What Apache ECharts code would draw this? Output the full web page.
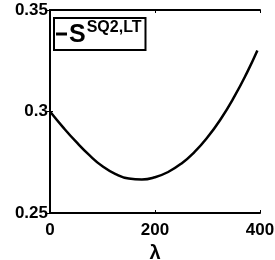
<!DOCTYPE html>
<html lang="en">
<head>
    <meta charset="UTF-8">
    <title>S SQ2,LT</title>
    <script src="https://cdnjs.cloudflare.com/ajax/libs/echarts/6.0.0/echarts.min.js"></script>
    <style>
        body { margin: 0; background: #fff; }
        #main { width: 275px; height: 260px; }
    </style>
</head>
<body>
    <div id="main"></div>
    <script>
        // values
        const lambda = [0, 25, 50, 75, 100, 125, 150, 175, 200, 225, 250, 275, 300, 325, 350, 375, 395];
        const sValues = [0.300, 0.2922, 0.2850, 0.2785, 0.2730, 0.2692, 0.2670, 0.2665, 0.2676, 0.2702, 0.2743, 0.2800, 0.2873, 0.2962, 0.3068, 0.3190, 0.3300];
        const xTicks = [0, 200, 400];
        const yTicks = [0.25, 0.3, 0.35];

        const font = 'Liberation Sans, Arial, sans-serif';
        const myChart = echarts.init(document.getElementById('main'));

        const axisLine = { show: true, lineStyle: { color: '#000', width: 2 } };
        const tick = { show: true, inside: true, length: 3, lineStyle: { color: '#000', width: 1 } };

        const option = {
            animation: false,
            grid: { left: 50, right: 15, top: 10, bottom: 47, outerBoundsMode: 'none', containLabel: false },
            legend: {
                left: 54, top: 18,
                orient: 'vertical',
                padding: [2, 4, 2, 2],
                borderColor: '#000', borderWidth: 2, borderRadius: 0,
                icon: 'rect', itemWidth: 11, itemHeight: 3, itemGap: 0,
                itemStyle: { color: '#000' },
                data: ['S'],
                formatter: () => '{s|S}{sup|SQ2,LT}',
                textStyle: {
                    padding: [0, 0, 0, -3],
                    rich: {
                        s: { fontFamily: font, fontWeight: 'bold', fontSize: 25, color: '#000', lineHeight: 28, verticalAlign: 'bottom' },
                        sup: { fontFamily: font, fontWeight: 'bold', fontSize: 16, color: '#000', verticalAlign: 'top', padding: [0, 0, 12, 1] }
                    }
                }
            },
            xAxis: [{
                type: 'value', min: 0, max: 400, interval: 200,
                name: 'λ', nameLocation: 'middle', nameGap: 28,
                nameTextStyle: { fontFamily: font, fontWeight: 'bold', fontSize: 20, color: '#000' },
                axisLine, axisTick: tick, splitLine: { show: false },
                axisLabel: {
                    margin: 9, color: '#000', fontFamily: font, fontWeight: 'bold', fontSize: 17,
                    formatter: v => xTicks.includes(v) ? String(v) : ''
                }
            }, {
                type: 'value', position: 'top', min: 0, max: 400, interval: 200,
                axisLine, axisTick: tick, axisLabel: { show: false }, splitLine: { show: false }
            }],
            yAxis: [{
                type: 'value', min: 0.25, max: 0.35, interval: 0.05,
                axisLine, axisTick: tick, splitLine: { show: false },
                axisLabel: {
                    margin: 2, color: '#000', fontFamily: font, fontWeight: 'bold', fontSize: 17,
                    formatter: v => {
                        const t = yTicks.find(y => Math.abs(y - v) < 1e-9);
                        return t === undefined ? '' : String(t);
                    }
                }
            }, {
                type: 'value', position: 'right', min: 0.25, max: 0.35, interval: 0.05,
                axisLine, axisTick: tick, axisLabel: { show: false }, splitLine: { show: false }
            }],
            series: [{
                name: 'S',
                type: 'line',
                smooth: true,
                showSymbol: false,
                lineStyle: { color: '#000', width: 2.5 },
                itemStyle: { color: '#000' },
                data: lambda.map((x, i) => [x, sValues[i]])
            }]
        };

        myChart.setOption(option);
    </script>
</body>
</html>
